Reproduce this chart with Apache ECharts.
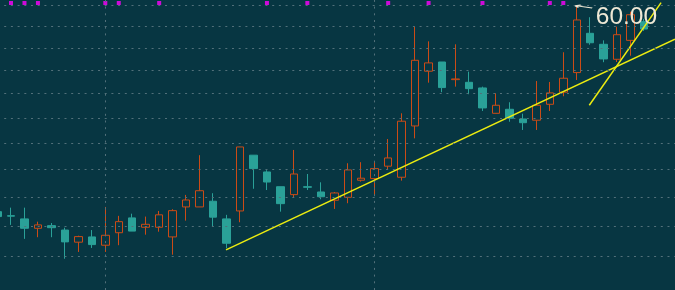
<!DOCTYPE html>
<html>
<head>
<meta charset="utf-8">
<style>
html,body{margin:0;padding:0;background:#073642;}
#c{width:675px;height:290px;}
</style>
<script src="https://cdn.jsdelivr.net/npm/echarts@6/dist/echarts.min.js"></script>
</head>
<body>
<div id="c"></div>
<script>
// ---- data ----
const categories = ('d01 d02 d03 d04 d05 d06 d07 d08 d09 d10 d11 d12 d13 d14 d15 d16 d17 d18 d19 d20 ' +
  'd21 d22 d23 d24 d25 d26 d27 d28 d29 d30 d31 d32 d33 d34 d35 d36 d37 d38 d39 d40 ' +
  'd41 d42 d43 d44 d45 d46 d47 d48 d49 d50 d51').split(' ');

const openP  = [42.97,42.69,42.47,41.83,42.01,41.71,40.90,41.25,40.70,41.53,42.54,41.90,41.90,41.25,43.30,43.30,43.70,42.47,43.02,47.08,
                45.82,44.74,44.17,44.74,44.36,43.77,43.98,45.21,45.33,46.25,45.43,49.36,53.93,54.74,53.20,52.97,52.49,50.38,50.71,49.92,
                49.82,51.12,52.13,53.81,57.34,56.33,54.98,56.69,58.43];
const closeP = [42.63,42.66,41.83,42.06,41.87,40.92,41.27,40.74,41.36,42.28,41.64,42.10,42.75,43.04,43.79,44.45,42.59,40.83,47.71,46.07,
                45.08,43.53,45.67,44.70,44.02,44.29,45.97,45.36,46.07,46.87,49.74,54.89,54.66,52.52,53.26,52.43,50.82,51.04,49.98,49.62,
                51.04,52.07,53.32,58.59,56.47,55.01,57.21,59.09,57.74];
const lowP   = [42.47,42.06,41.12,41.23,41.23,39.82,40.26,40.52,40.26,40.70,41.64,41.40,41.60,40.08,42.35,43.30,41.94,40.50,42.24,44.59,
                44.50,42.97,43.93,44.50,43.84,43.16,43.56,45.11,44.07,45.97,45.18,48.38,52.94,52.13,52.60,51.96,50.57,50.38,49.70,49.04,
                49.04,50.57,51.79,53.17,56.29,54.72,54.74,55.30,57.56];
const highP  = [43.16,43.25,43.25,42.28,42.19,41.87,41.33,41.71,43.30,42.68,42.83,42.63,43.02,43.14,44.15,47.08,44.27,42.75,47.71,47.08,
                45.95,44.74,47.48,45.67,45.06,44.36,46.47,46.55,46.64,48.33,50.38,57.96,56.60,54.74,56.33,53.89,52.60,52.04,51.29,50.35,
                53.08,53.00,55.61,60.00,58.85,56.69,57.96,59.38,58.69];

const gridValues = [40,42,44,46,48,50,52,54,56,58,60];     // dotted horizontal guide lines
const verticalGuideIdx = [8, 28];                          // dotted vertical guide lines
const markerIdx = [1,2,3,8,9,12,20,23,29,32,36,41,42];     // magenta signal squares
const markerValue = 60.22;
const trendA = [[16.96, 40.39], [50.29, 56.79]];           // [category position, price]
const trendB = [[43.93, 51.04], [49.26, 60.25]];
const peakIdx = 43;

// ---- build ----
const ohlc = categories.map((c, i) => i < openP.length ? [openP[i], closeP[i], lowP[i], highP[i]] : '-');
const N = categories.length;

const BG = '#073642', UP = '#cb4b16', DOWN = '#2aa198', GRIDC = '#52707a', YEL = '#ecec10', TXT = '#eee8d5';

const chart = echarts.init(document.getElementById('c'), null, {renderer: 'canvas'});
chart.setOption({
  backgroundColor: BG,
  animation: false,
  grid: {left: -9.2, right: -2.8, top: 0, bottom: 0, containLabel: false, outerBoundsMode: 'none'},
  xAxis: [
    {type: 'category', data: categories, boundaryGap: true, show: false},
    {type: 'value', min: -0.5, max: N - 0.5, show: false}
  ],
  yAxis: {type: 'log', min: 37.856, max: 60.513, show: false, splitLine: {show: false}},
  series: [
    {
      type: 'line', data: [], z: 1, silent: true,
      markLine: {
        silent: true, symbol: ['none', 'none'], label: {show: false},
        lineStyle: {color: GRIDC, type: [2, 4.7], width: 1},
        emphasis: {disabled: true},
        data: gridValues.map(v => ({yAxis: v})).concat(verticalGuideIdx.map(i => ({xAxis: categories[i]})))
      }
    },
    {
      type: 'candlestick', data: ohlc, z: 2, barWidth: 8,
      itemStyle: {color: 'transparent', color0: DOWN, borderColor: UP, borderColor0: DOWN, borderWidth: 1},
      markPoint: {
        silent: true,
        data: [
          {
            coord: [categories[peakIdx], highP[peakIdx]],
            symbol: 'path://M0 0L17 5.5M0 0L5.5 -1.6M0 0L3 4.6',
            symbolSize: [17, 7.1], symbolKeepAspect: true, symbolOffset: [7, 1.2],
            itemStyle: {color: 'transparent', borderColor: TXT, borderWidth: 1.5},
            label: {show: false}
          },
          {
            coord: [categories[peakIdx], highP[peakIdx]], value: highP[peakIdx],
            symbol: 'rect', symbolSize: 1, itemStyle: {color: 'transparent'},
            label: {
              show: true, position: 'right', distance: 0, offset: [18.5, 11.5],
              formatter: p => Number(p.value).toFixed(2),
              color: TXT, fontSize: 24.5, fontFamily: 'Liberation Sans'
            }
          }
        ]
      }
    },
    {
      type: 'line', xAxisIndex: 1, data: trendA, z: 3, showSymbol: false, silent: true,
      lineStyle: {color: YEL, width: 1.5}
    },
    {
      type: 'line', xAxisIndex: 1, data: trendB, z: 3, showSymbol: false, silent: true,
      lineStyle: {color: YEL, width: 1.5}
    },
    {
      type: 'scatter', data: markerIdx.map(i => [categories[i], markerValue]), z: 4,
      symbol: 'rect', symbolSize: 4, itemStyle: {color: '#ff00ff'}, silent: true
    }
  ]
});
</script>
</body>
</html>
